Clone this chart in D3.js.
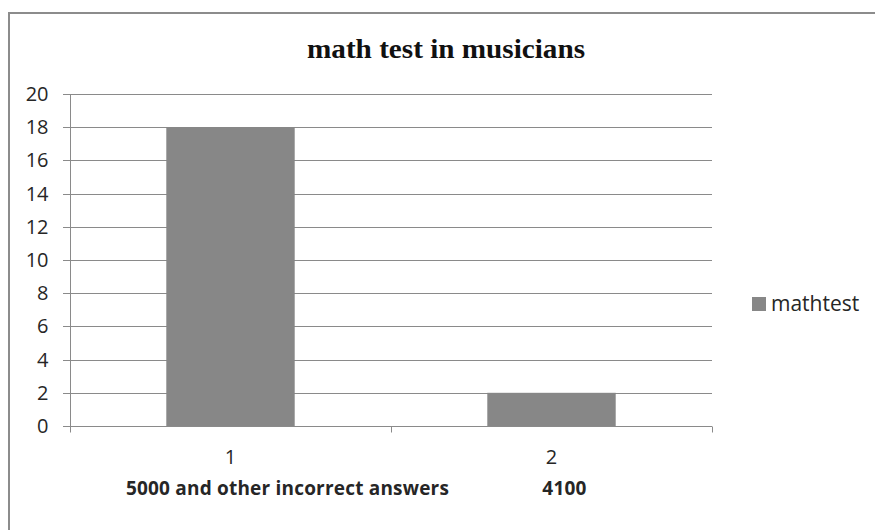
<!DOCTYPE html>
<html>
<head>
<meta charset="utf-8">
<script src="https://cdn.jsdelivr.net/npm/d3@7"></script>
<style>
  html, body { margin: 0; padding: 0; background: #fff; }
  svg { display: block; }
</style>
</head>
<body>
<svg id="chart" width="875" height="530"></svg>
<script>
// Chart data
const categories = ["1", "2"];
const categoryNotes = ["5000 and other incorrect answers", "4100"];
const mathtest = [18, 2];
const yTicks = [0, 2, 4, 6, 8, 10, 12, 14, 16, 18, 20];
const seriesName = "mathtest";
const title = "math test in musicians";

// Horizontal nudges for the second label line (px)
const noteOffsets = [57, 13];

const W = 875, H = 530;
const plot = { left: 70, right: 712, top: 94, bottom: 426 };
const gray = "#8a8a8a";
const barColor = "#878787";
const textColor = "#262626";
const sans = "'Open Sans', 'Noto Sans', sans-serif";

const svg = d3.select("#chart");

// Outer frame (only top and left edges visible)
svg.append("path")
  .attr("d", `M9,${H} V13 H${W}`)
  .attr("fill", "none")
  .attr("stroke", "#8c8c8c")
  .attr("stroke-width", 2);

const x = d3.scaleBand()
  .domain(categories)
  .range([plot.left, plot.right])
  .paddingInner(0.6)
  .paddingOuter(0.3);

const xOuter = d3.scaleBand()
  .domain(categories)
  .range([plot.left, plot.right])
  .padding(0);

const y = d3.scaleLinear()
  .domain([0, 20])
  .range([plot.bottom, plot.top]);

// Gridlines
svg.append("g")
  .selectAll("line")
  .data(yTicks)
  .join("line")
  .attr("x1", plot.left - 7)
  .attr("x2", plot.right)
  .attr("y1", d => Math.round(y(d)) + 0.5)
  .attr("y2", d => Math.round(y(d)) + 0.5)
  .attr("stroke", gray)
  .attr("stroke-width", 1);

// Y axis
const yAxis = svg.append("g")
  .attr("transform", `translate(${plot.left + 0.5},0)`)
  .call(d3.axisLeft(y).tickValues(yTicks).tickSize(7).tickPadding(15));
yAxis.select(".domain").attr("stroke", gray).attr("d", `M0,${plot.top}V${plot.bottom + 6}`);
yAxis.selectAll(".tick line").attr("stroke", gray);
yAxis.selectAll(".tick text")
  .attr("fill", textColor)
  .style("font-family", sans)
  .style("font-size", "20px");
yAxis.selectAll(".tick").attr("transform", d => `translate(0,${Math.round(y(d)) + 0.5})`);

// Bars
svg.append("g")
  .selectAll("rect")
  .data(mathtest)
  .join("rect")
  .attr("x", (d, i) => x(categories[i]))
  .attr("width", x.bandwidth())
  .attr("y", d => y(d))
  .attr("height", d => y(0) - y(d))
  .attr("fill", barColor);

// X axis baseline and category boundary ticks
const xBase = Math.round(y(0)) + 0.5;
const boundaries = [plot.left, ...categories.map(c => xOuter(c) + xOuter.bandwidth())];
const xg = svg.append("g");
xg.append("line")
  .attr("x1", plot.left).attr("x2", plot.right)
  .attr("y1", xBase).attr("y2", xBase)
  .attr("stroke", gray);
xg.selectAll("line.b")
  .data(boundaries)
  .join("line")
  .attr("class", "b")
  .attr("x1", d => Math.round(d) + 0.5).attr("x2", d => Math.round(d) + 0.5)
  .attr("y1", xBase).attr("y2", xBase + 6)
  .attr("stroke", gray);

// Category labels
xg.selectAll("text.cat")
  .data(categories)
  .join("text")
  .attr("class", "cat")
  .attr("x", d => x(d) + x.bandwidth() / 2)
  .attr("y", 464)
  .attr("text-anchor", "middle")
  .attr("fill", textColor)
  .style("font-family", sans)
  .style("font-size", "20px")
  .text(d => d);

xg.selectAll("text.note")
  .data(categoryNotes)
  .join("text")
  .attr("class", "note")
  .attr("x", (d, i) => x(categories[i]) + x.bandwidth() / 2 + noteOffsets[i])
  .attr("y", 495)
  .attr("text-anchor", "middle")
  .attr("fill", textColor)
  .style("font-family", sans)
  .style("font-size", "19px")
  .style("font-weight", "bold")
  .style("letter-spacing", "0.2px")
  .text(d => d);

// Title
svg.append("text")
  .attr("x", 446)
  .attr("y", 58)
  .attr("text-anchor", "middle")
  .attr("fill", "#111")
  .style("font-family", "'Liberation Serif', 'DejaVu Serif', serif")
  .style("font-size", "27px")
  .style("font-weight", "bold")
  .attr("textLength", 278)
  .attr("lengthAdjust", "spacingAndGlyphs")
  .text(title);

// Legend
const lg = svg.append("g").attr("transform", "translate(752,297)");
lg.append("rect").attr("width", 14).attr("height", 14).attr("fill", barColor);
lg.append("text")
  .attr("x", 19)
  .attr("y", 14)
  .attr("fill", textColor)
  .style("font-family", sans)
  .style("font-size", "21px")
  .text(seriesName);
</script>
</body>
</html>
